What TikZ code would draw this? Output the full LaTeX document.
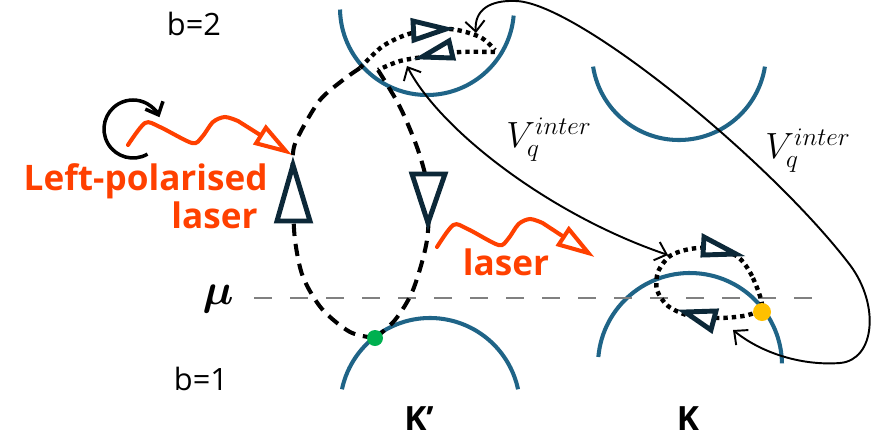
\documentclass[tikz,border=0pt]{standalone}
\usepackage{amsmath}
\usepackage{fontspec}
\setmainfont{Open Sans}
\usetikzlibrary{arrows.meta}

\definecolor{bandblue}{RGB}{31,100,135}
\definecolor{arrnavy}{RGB}{12,40,56}
\definecolor{laserred}{RGB}{255,64,0}
\definecolor{mugray}{RGB}{128,128,128}
\definecolor{dotgreen}{RGB}{0,176,80}
\definecolor{dotyellow}{RGB}{255,192,0}

\begin{document}
\begin{tikzpicture}[x=0.2mm, y=-0.2mm,
    band/.style={bandblue, line width=2.3pt},
    fermi/.style={mugray, line width=1.7pt, dash pattern=on 10pt off 10.5pt},
    hop/.style={black, line width=2.3pt, dash pattern=on 7pt off 4.5pt},
    virt/.style={black, line width=2.5pt, dash pattern=on 2.5pt off 2.3pt},
    tri/.style={draw=arrnavy, fill=white, line width=2.8pt, line join=miter},
    vint/.style={black, line width=1.1pt,
        {Straight Barb[length=6pt, width=11pt]}-{Straight Barb[length=6pt, width=11pt]}},
    laser/.style={laserred, line width=2.3pt, line cap=round,
        -{Triangle[open, length=22pt, width=13pt]}},
    lbl/.style={inner sep=1pt, font=\fontsize{17.5}{20}\selectfont},
    valley/.style={inner sep=1pt, font=\fontsize{19}{22}\selectfont\bfseries},
    redtxt/.style={laserred, inner sep=0pt, font=\fontsize{20}{24}\selectfont\bfseries}]
    \useasboundingbox (0,0) rectangle (878,439);

    % Bands: b=2 above, b=1 below
    \draw[band] (427,8) ++(181:17.4mm) arc[start angle=181, end angle=355, radius=17.4mm];
    \draw[band] (679,53) ++(189:17.4mm) arc[start angle=189, end angle=351, radius=17.4mm];
    \draw[band] (430,408) ++(168:18mm) arc[start angle=168, end angle=12, radius=18mm];
    \draw[band] (690,365) ++(175:18.4mm) arc[start angle=175, end angle=1, radius=18.4mm];

    % Chemical potential
    \draw[fermi] (254,298) -- (828,298);

    % Key points
    \coordinate (gdot) at (375,338);
    \coordinate (ydot) at (762,312);
    \coordinate (topin) at (407,66);
    \coordinate (topout) at (476,33);
    \coordinate (kin) at (668,255);
    \coordinate (kout) at (733,330);

    % Interaction
    \draw[vint] (topin) .. controls (440,130) and (550,215) .. (kin);
    \draw[vint] (topout) .. controls (474,10) and (490,0) .. (515,1)
        .. controls (575,1) and (770,160) .. (850,265)
        .. controls (880,305) and (875,360) .. (840,363)
        .. controls (800,366) and (760,352) .. (kout);

    % Loop at K'
    \draw[hop] plot[smooth] coordinates {(gdot) (350,332) (322,309) (303,277) (295,240)
        (293,200) (293,153) (300,133) (320,100) (343,80) (360,68)};
    \draw[hop] plot[smooth] coordinates {(378,70) (400,107) (418,150) (428,190)
        (427,240) (413,290) (395,320) (gdot)};
    \draw[virt] plot[smooth] coordinates {(360,68) (383,46) (412,33) (450,29) (480,37) (495,50)};
    \draw[virt] plot[smooth] coordinates {(495,52) (460,52) (430,56) (400,61) (378,70)};

    % Loop at K
    \draw[virt] plot[smooth cycle] coordinates {(762,306) (752,276) (738,257) (715,248)
        (690,249) (670,256) (658,272) (657,290) (668,306) (690,316) (720,318) (748,315)};

    % Direction marks
    \draw[tri] (293,165) -- (277,221) -- (310,221) -- cycle;
    \draw[tri] (412,174) -- (445,174) -- (428,223) -- cycle;
    \draw[tri] (413,21) -- (446,29) -- (414,40) -- cycle;
    \draw[tri] (422,57) -- (449,41) -- (453,58) -- cycle;
    \draw[tri] (704,237) -- (736,254) -- (703,255) -- cycle;
    \draw[tri] (685,312) -- (716,311) -- (711,330) -- cycle;

    \fill[dotgreen] (gdot) circle (1.6mm);
    \fill[dotyellow] (ydot) circle (1.8mm);

    % Polarisation
    \draw[black, line width=2pt, -{Straight Barb[length=6pt, width=11pt]}]
        (133,129) ++(-60:5.8mm) arc[start angle=-60, end angle=-336, radius=5.8mm];

    % Lasers
    \begin{scope}[shift={(128,145)}]
        \draw[laser] plot[smooth] coordinates {(0,0) (17,-22) (32,-18) (64,-2) (74,-8)
            (85,-23) (97,-28) (110,-24)} -- (164,10);
    \end{scope}
    \begin{scope}[shift={(437,247)}, xscale=0.96]
        \draw[laser] plot[smooth] coordinates {(0,0) (17,-22) (32,-18) (64,-2) (74,-8)
            (85,-23) (97,-28) (110,-24)} -- (164,10);
    \end{scope}

    % Labels
    \node[lbl] (b2) at (194,24) {b=2};
    \node[lbl] (b1) at (201,379) {b=1};
    \node[font=\fontsize{31}{33}\selectfont] (mu) at (218,299) {$\boldsymbol{\mu}$};
    \node[valley] (kp) at (419,419) {K’};
    \node[valley] (k) at (688,419) {K};
    \node[redtxt, anchor=base east] (lpol) at (268,190) {Left-polarised};
    \node[redtxt, anchor=base east] (las1) at (258,228) {laser};
    \node[redtxt, anchor=base] (las2) at (506,275) {laser};
    \node[font=\fontsize{22}{24}\selectfont] (v1) at (549,140) {$V_q^{inter}$};
    \node[font=\fontsize{22}{24}\selectfont] (v2) at (808,151) {$V_q^{inter}$};
\end{tikzpicture}
\end{document}
